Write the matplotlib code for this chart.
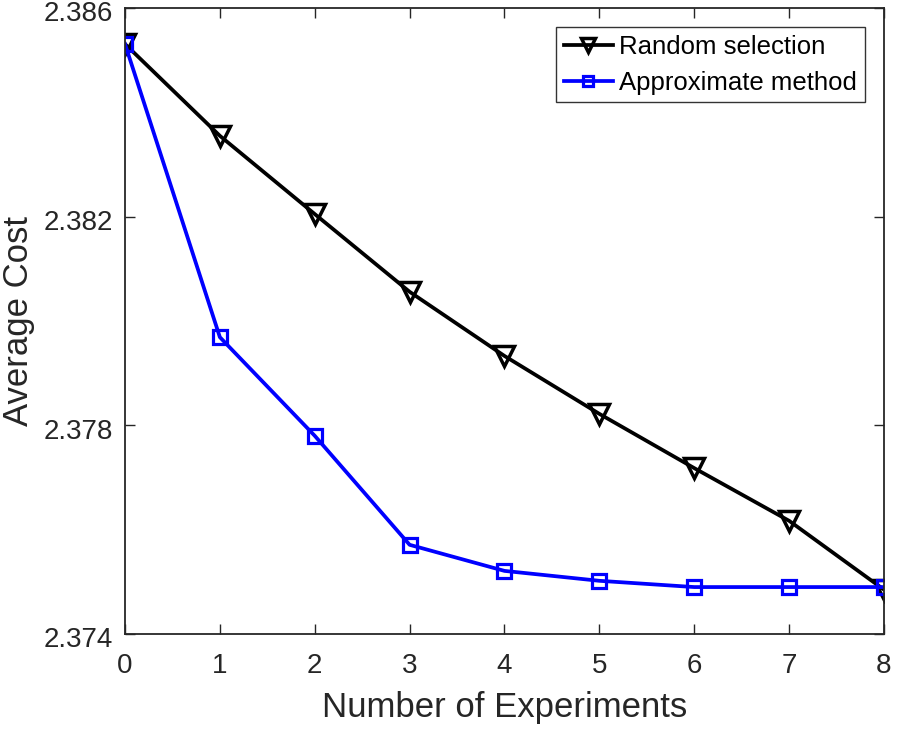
import matplotlib.pyplot as plt
import matplotlib.transforms as mtransforms

plt.rcParams['font.family'] = ['Liberation Sans', 'DejaVu Sans']

experiments = [0, 1, 2, 3, 4, 5, 6, 7, 8]
random_cost = [2.38531, 2.38355, 2.38205, 2.38056, 2.37933, 2.37822, 2.37718, 2.37617, 2.37485]
approx_cost = [2.38531, 2.37969, 2.37780, 2.37571, 2.37521, 2.37502, 2.37490, 2.37490, 2.37490]
y_ticks = [2.374, 2.378, 2.382, 2.386]

fig = plt.figure(figsize=(8.98, 7.29), dpi=100)
ax = fig.add_axes([0.1392, 0.1303, 0.8452, 0.8587])

ax.plot(experiments, random_cost, color='black', lw=2.7, marker='v',
        ms=15, mfc='none', mec='black', mew=2.5, label='Random selection')
ax.plot(experiments, approx_cost, color='#0000ff', lw=2.7, marker='s',
        ms=10, mfc='none', mec='#0000ff', mew=2.3, label='Approximate method')

ax.set_xlim(0, 8)
ax.set_ylim(2.374, 2.386)
ax.set_xticks(experiments)
ax.set_yticks(y_ticks)
ax.set_yticklabels([f'{v:.3f}' for v in y_ticks])
ax.tick_params(direction='in', top=True, right=True, labelsize=20, length=7,
               width=1, colors='#262626')
ax.tick_params(axis='x', pad=14)
ax.tick_params(axis='y', pad=9)
for s in ax.spines.values():
    s.set_color('#262626')
    s.set_linewidth(1.3)

# nudge y tick labels down a little so the top one fits
shift = mtransforms.ScaledTranslation(0, -2.5 / 72, fig.dpi_scale_trans)
for lbl in ax.get_yticklabels():
    lbl.set_transform(lbl.get_transform() + shift)

ax.set_xlabel('Number of Experiments', fontsize=25, color='#262626', labelpad=8)
ax.set_ylabel('Average Cost', fontsize=25, color='#262626', labelpad=6)

leg = ax.legend(loc='upper right', fontsize=18.5, frameon=True, fancybox=False,
                edgecolor='black', handlelength=1.9, handletextpad=0.25,
                borderpad=0.3, labelspacing=0.45, borderaxespad=0.75,
                markerscale=0.7)
leg.get_frame().set_linewidth(1.0)

fig.savefig('out.png', dpi=100)
